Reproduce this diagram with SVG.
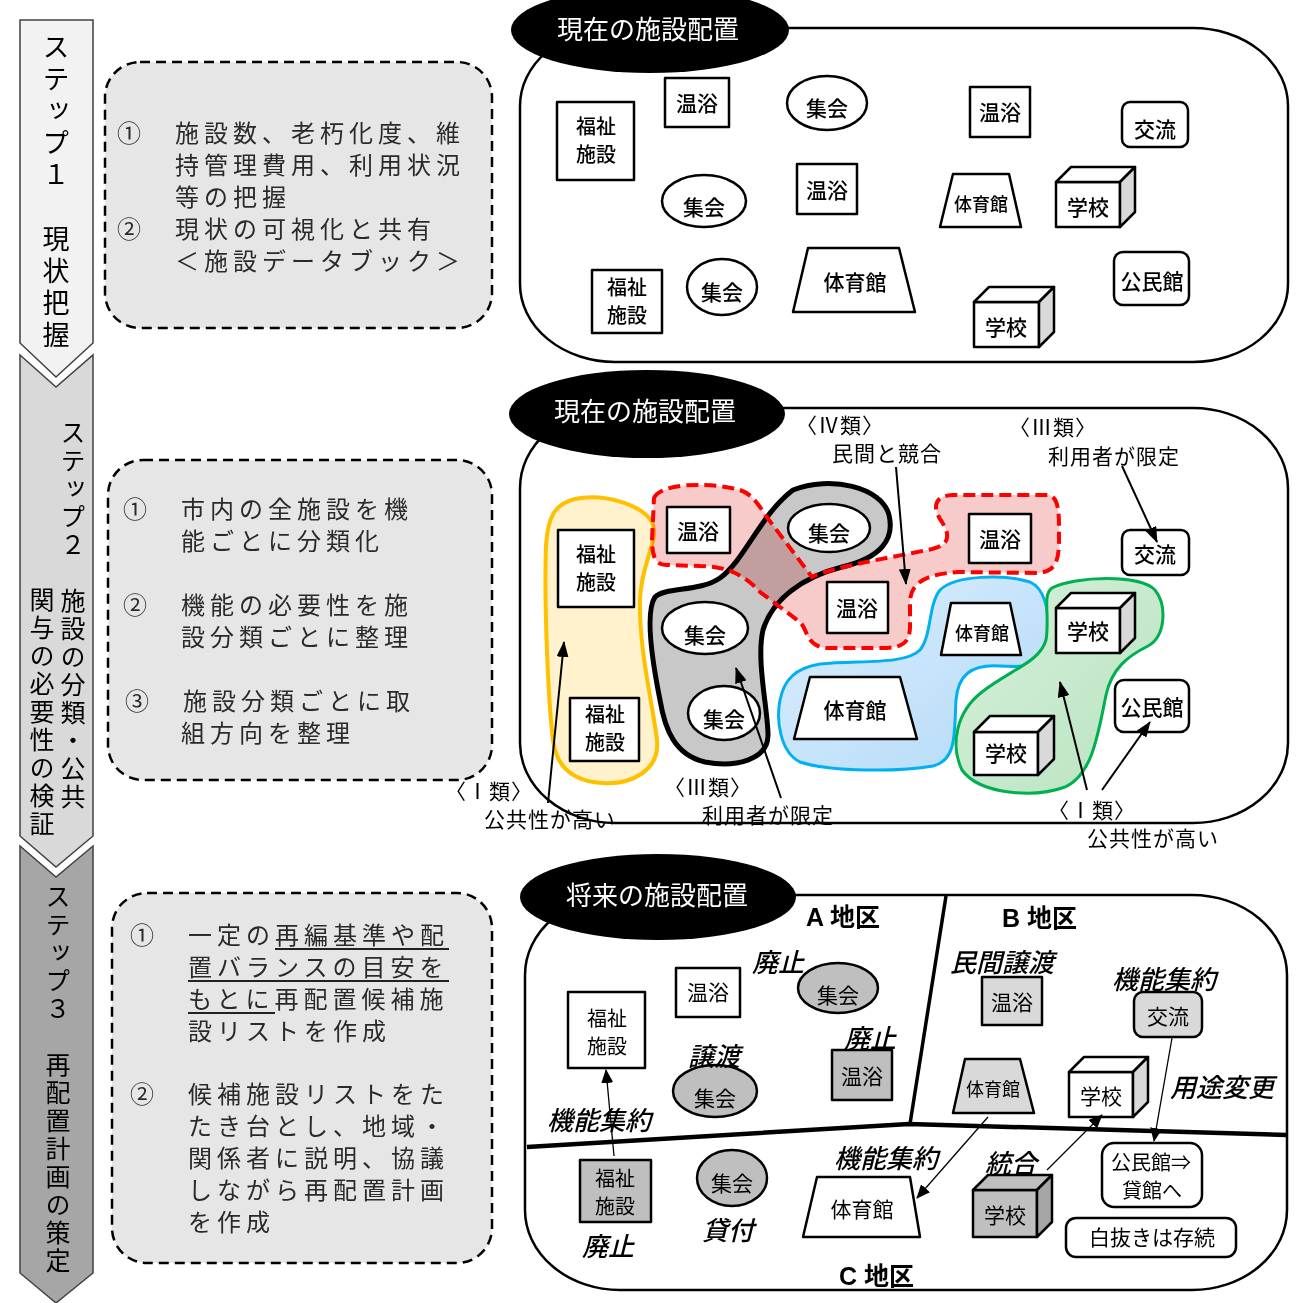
<svg xmlns="http://www.w3.org/2000/svg" width="1303" height="1303" viewBox="0 0 1303 1303">
<defs>
<style>
.step{stroke:#404040;stroke-width:1.5}
.vt{font-family:"Noto Sans CJK JP",sans-serif;writing-mode:vertical-rl;fill:#000}
.note{fill:#e6e6e6;stroke:#000;stroke-width:2.5;stroke-dasharray:10 6}
.nt{font-family:"Noto Sans CJK JP",sans-serif;font-size:24px;letter-spacing:5px;fill:#2a2a2a}
.ul{stroke:#222;stroke-width:2}
.panel{fill:#fff;stroke:#000;stroke-width:2.5}
.tt{font-family:"Noto Sans CJK JP",sans-serif;font-size:26px;fill:#fff;text-anchor:middle}
.n{fill:#fff;stroke:#000;stroke-width:2.5;stroke-linejoin:round}
.g1{fill:#bfbfbf}
.g2{fill:#d9d9d9}
.sd{fill:#d9d9d9}
.sd1{fill:#a6a6a6}
.lb{font-family:"Noto Sans CJK JP",sans-serif;font-size:21px;text-anchor:middle;fill:#000}
.two{font-size:20px}
.p12{font-weight:500}
.sm{font-size:18px}
.cap{font-family:"Noto Sans CJK JP",sans-serif;font-size:21px;fill:#000;text-anchor:middle;letter-spacing:1px}
.it{font-family:"Noto Sans CJK JP",sans-serif;font-size:26px;font-style:italic;font-weight:500;fill:#000}
.area{font-family:"Liberation Sans","Noto Sans CJK JP",sans-serif;font-size:25px;font-weight:bold;fill:#000}
.c2{stroke:#000;stroke-width:2;fill:none;marker-end:url(#ah2)}
.c3{stroke:#000;stroke-width:1.3;fill:none;marker-end:url(#ah3)}
.div{stroke:#000;fill:none;stroke-linejoin:round}
</style>
<marker id="ah2" viewBox="0 0 16 12" refX="15" refY="6" markerWidth="16" markerHeight="12" markerUnits="userSpaceOnUse" orient="auto"><path d="M0,0 L16,6 L0,12 Z" fill="#000"/></marker>
<marker id="ah3" viewBox="0 0 14 12" refX="13" refY="6" markerWidth="14" markerHeight="12" markerUnits="userSpaceOnUse" orient="auto"><path d="M0,0 L14,6 L0,12 Z" fill="#000"/></marker>
<linearGradient id="gb" x1="0" y1="0" x2="1" y2="1"><stop offset="0" stop-color="#dcEEFC"/><stop offset="1" stop-color="#b3dAf8"/></linearGradient>
<linearGradient id="gg" x1="0" y1="0" x2="1" y2="1"><stop offset="0" stop-color="#d8F0dc"/><stop offset="1" stop-color="#b7e3bf"/></linearGradient>
</defs>

<!-- Steps -->
<g id="step1">
<path class="step" fill="#f2f2f2" d="M20,20 L93,20 L93,343 L56,377 L20,343 Z"/>
<text class="vt" x="56" y="33" font-size="27" letter-spacing="5">ステップ１　現状把握</text>
</g>
<g id="step2">
<path class="step" fill="#d9d9d9" d="M20,355 L56,387 L93,355 L93,836 L56,867 L20,836 Z"/>
<text class="vt" x="73" y="420" font-size="25" letter-spacing="3">ステップ２　施設の分類・公共</text>
<text class="vt" x="42" y="587" font-size="25" letter-spacing="3">関与の必要性の検証</text>
</g>
<g id="step3">
<path class="step" fill="#a6a6a6" d="M20,846 L56,877 L93,846 L93,1273 L56,1303 L20,1273 Z"/>
<text class="vt" x="58" y="884" font-size="25" letter-spacing="3">ステップ３　再配置計画の策定</text>
</g>

<!-- Notes -->
<g id="note1">
<rect class="note" x="105" y="62" width="387" height="266" rx="35"/>
<text class="nt"><tspan x="117" y="142">①　施設数、老朽化度、維</tspan><tspan x="175" y="174">持管理費用、利用状況</tspan><tspan x="175" y="206">等の把握</tspan><tspan x="117" y="238">②　現状の可視化と共有</tspan><tspan x="175" y="270">＜施設データブック＞</tspan></text>
</g>
<g id="note2">
<rect class="note" x="108" y="460" width="384" height="320" rx="35"/>
<text class="nt"><tspan x="123" y="518">①　市内の全施設を機</tspan><tspan x="181" y="550">能ごとに分類化</tspan><tspan x="123" y="614">②　機能の必要性を施</tspan><tspan x="181" y="646">設分類ごとに整理</tspan><tspan x="125" y="710">③　施設分類ごとに取</tspan><tspan x="181" y="742">組方向を整理</tspan></text>
</g>
<g id="note3">
<rect class="note" x="112" y="893" width="380" height="370" rx="35"/>
<text class="nt"><tspan x="130" y="944">①　一定の再編基準や配</tspan><tspan x="188" y="976">置バランスの目安を</tspan><tspan x="188" y="1008">もとに再配置候補施</tspan><tspan x="188" y="1040">設リストを作成</tspan><tspan x="130" y="1103">②　候補施設リストをた</tspan><tspan x="188" y="1135">たき台とし、地域・</tspan><tspan x="188" y="1167">関係者に説明、協議</tspan><tspan x="188" y="1199">しながら再配置計画</tspan><tspan x="188" y="1231">を作成</tspan></text>
<line class="ul" x1="275" y1="949" x2="449" y2="949"/>
<line class="ul" x1="188" y1="981" x2="449" y2="981"/>
<line class="ul" x1="188" y1="1013" x2="275" y2="1013"/>
</g>

<!-- Panel 1 -->
<g id="panel1">
<rect class="panel" x="520" y="28" width="768" height="334" rx="95" ry="78"/>
<ellipse cx="650" cy="30" rx="139" ry="43" fill="#000"/>
<text class="tt" x="648" y="39">現在の施設配置</text>
</g>
<g id="p1-fukushi1"><rect class="n" x="557" y="102" width="77" height="78"/><text class="lb two p12"><tspan x="596" y="134">福祉</tspan><tspan x="596" y="162">施設</tspan></text></g>
<g id="p1-onyoku1"><rect class="n" x="665" y="78" width="64" height="49"/><text class="lb p12" x="697" y="111">温浴</text></g>
<g id="p1-shukai1"><ellipse class="n" cx="827" cy="103" rx="40" ry="27"/><text class="lb p12" x="827" y="116">集会</text></g>
<g id="p1-onyoku2"><rect class="n" x="970" y="87" width="60" height="50"/><text class="lb p12" x="1000" y="120">温浴</text></g>
<g id="p1-koryu"><rect class="n" x="1122" y="102" width="66" height="45" rx="8"/><text class="lb p12" x="1155" y="137">交流</text></g>
<g id="p1-shukai2"><ellipse class="n" cx="704" cy="201" rx="42" ry="26"/><text class="lb p12" x="704" y="215">集会</text></g>
<g id="p1-onyoku3"><rect class="n" x="797" y="164" width="60" height="50"/><text class="lb p12" x="827" y="198">温浴</text></g>
<g id="p1-taiiku1"><polygon class="n" points="953,174 1009,174 1021,227 940,227"/><text class="lb p12 sm" x="981" y="211">体育館</text></g>
<g id="p1-gakko1"><rect class="n" x="1056" y="182" width="64" height="45"/><polygon class="n" points="1056,182 1071,167 1135,167 1120,182"/><polygon class="n sd" points="1120,182 1135,167 1135,212 1120,227"/><text class="lb p12" x="1088" y="215">学校</text></g>
<g id="p1-fukushi2"><rect class="n" x="592" y="270" width="70" height="63"/><text class="lb two p12"><tspan x="627" y="295">福祉</tspan><tspan x="627" y="323">施設</tspan></text></g>
<g id="p1-shukai3"><ellipse class="n" cx="722" cy="287" rx="35" ry="28"/><text class="lb p12" x="722" y="300">集会</text></g>
<g id="p1-taiiku2"><polygon class="n" points="808,248 899,248 915,312 793,312"/><text class="lb p12" x="855" y="290">体育館</text></g>
<g id="p1-kominkan"><rect class="n" x="1114" y="252" width="75" height="53" rx="9"/><text class="lb p12" x="1152" y="289">公民館</text></g>
<g id="p1-gakko2"><rect class="n" x="974" y="302" width="65" height="45"/><polygon class="n" points="974,302 989,287 1054,287 1039,302"/><polygon class="n sd" points="1039,302 1054,287 1054,332 1039,347"/><text class="lb p12" x="1006" y="335">学校</text></g>

<!-- Panel 2 -->
<g id="panel2">
<rect class="panel" x="520" y="408" width="768" height="415" rx="95" ry="80"/>
</g>
<g id="p2-groups">
<path id="grp-yellow" d="M575,499 C605,493 642,505 652,522 C660,540 641,562 640,600 C639,650 652,700 657,740 C660,770 632,785 602,783 C570,781 556,765 553,740 C548,700 544,600 546,545 C548,516 555,504 575,499 Z" fill="#fff2cc" stroke="#ffc000" stroke-width="4"/>
<path id="grp-gray-fill" d="M793,490 C830,475 882,487 889,515 C895,540 880,558 842,567 C802,577 772,600 763,630 C756,660 768,710 768,735 C768,760 735,768 705,762 C675,755 665,730 660,700 C652,660 645,612 655,597 C665,587 700,592 720,578 C745,560 760,515 793,490 Z" fill="#c8c8c8"/>
<path id="grp-red-fill" d="M654,498 C660,484 705,481 740,490 C752,494 758,504 766,516 L812,577 C835,566 890,558 932,549 C953,544 948,532 942,522 C932,508 934,496 952,495 L1048,495 C1060,497 1059,515 1059,540 C1059,562 1055,573 1035,573 L958,572 C930,574 912,580 910,600 L910,628 C909,645 900,648 880,648 L826,648 C806,646 808,630 800,622 L760,592 C742,572 722,566 700,566 L666,565 C655,565 652,555 652,540 Z" fill="#f8cbcb" style="mix-blend-mode:multiply"/>
<path d="M793,490 C830,475 882,487 889,515 C895,540 880,558 842,567 C802,577 772,600 763,630 C756,660 768,710 768,735 C768,760 735,768 705,762 C675,755 665,730 660,700 C652,660 645,612 655,597 C665,587 700,592 720,578 C745,560 760,515 793,490 Z" fill="none" stroke="#000" stroke-width="5"/>
<path d="M654,498 C660,484 705,481 740,490 C752,494 758,504 766,516 L812,577 C835,566 890,558 932,549 C953,544 948,532 942,522 C932,508 934,496 952,495 L1048,495 C1060,497 1059,515 1059,540 C1059,562 1055,573 1035,573 L958,572 C930,574 912,580 910,600 L910,628 C909,645 900,648 880,648 L826,648 C806,646 808,630 800,622 L760,592 C742,572 722,566 700,566 L666,565 C655,565 652,555 652,540 Z" fill="none" stroke="#ff0000" stroke-width="4" stroke-dasharray="12 6"/>
<path id="grp-blue" d="M940,590 C955,575 1005,574 1030,582 C1048,590 1050,620 1049,645 C1048,665 1030,668 1000,666 C970,664 958,676 956,700 C954,730 958,760 933,766 C900,772 830,772 800,762 C780,752 776,720 780,700 C784,680 795,668 820,664 C860,660 905,665 920,650 C932,635 928,605 940,590 Z" fill="url(#gb)" stroke="#00b0f0" stroke-width="3"/>
<path id="grp-green" d="M1052,588 C1075,576 1140,574 1155,590 C1167,605 1166,636 1148,646 C1128,656 1112,668 1106,695 C1098,735 1092,775 1065,787 C1035,798 980,795 962,770 C950,745 956,712 982,692 C1010,670 1040,662 1046,640 C1050,615 1042,595 1052,588 Z" fill="url(#gg)" stroke="#00b050" stroke-width="3"/>
</g>
<g id="p2-fukushi1"><rect class="n" x="558" y="530" width="76" height="77"/><text class="lb two p12"><tspan x="596" y="562">福祉</tspan><tspan x="596" y="590">施設</tspan></text></g>
<g id="p2-fukushi2"><rect class="n" x="570" y="698" width="69" height="63"/><text class="lb two p12"><tspan x="605" y="722">福祉</tspan><tspan x="605" y="750">施設</tspan></text></g>
<g id="p2-onyoku1"><rect class="n" x="667" y="507" width="63" height="46"/><text class="lb p12" x="698" y="539">温浴</text></g>
<g id="p2-shukai1"><ellipse class="n" cx="829" cy="528" rx="41" ry="24"/><text class="lb p12" x="829" y="541">集会</text></g>
<g id="p2-onyoku2"><rect class="n" x="969" y="514" width="62" height="49"/><text class="lb p12" x="1000" y="547">温浴</text></g>
<g id="p2-koryu"><rect class="n" x="1122" y="530" width="67" height="45" rx="8"/><text class="lb p12" x="1155" y="562">交流</text></g>
<g id="p2-shukai2"><ellipse class="n" cx="705" cy="628" rx="43" ry="26"/><text class="lb p12" x="705" y="643">集会</text></g>
<g id="p2-onyoku3"><rect class="n" x="827" y="582" width="61" height="51"/><text class="lb p12" x="857" y="616">温浴</text></g>
<g id="p2-taiiku1"><polygon class="n" points="951,603 1010,603 1021,655 941,655"/><text class="lb p12 sm" x="982" y="640">体育館</text></g>
<g id="p2-gakko1"><rect class="n" x="1056" y="608" width="64" height="45"/><polygon class="n" points="1056,608 1071,593 1135,593 1120,608"/><polygon class="n sd" points="1120,608 1135,593 1135,638 1120,653"/><text class="lb p12" x="1088" y="639">学校</text></g>
<g id="p2-shukai3"><ellipse class="n" cx="724" cy="713" rx="36" ry="27"/><text class="lb p12" x="724" y="727">集会</text></g>
<g id="p2-taiiku2"><polygon class="n" points="810,677 900,677 917,739 794,739"/><text class="lb p12" x="855" y="718">体育館</text></g>
<g id="p2-gakko2"><rect class="n" x="974" y="732" width="64" height="43"/><polygon class="n" points="974,732 990,716 1054,716 1038,732"/><polygon class="n sd" points="1038,732 1054,716 1054,759 1038,775"/><text class="lb p12" x="1006" y="761">学校</text></g>
<g id="p2-kominkan"><rect class="n" x="1115" y="680" width="74" height="52" rx="9"/><text class="lb p12" x="1152" y="715">公民館</text></g>
<g id="panel2-title">
<ellipse cx="647" cy="414" rx="138" ry="44" fill="#000"/>
<text class="tt" x="645" y="421">現在の施設配置</text>
</g>
<g id="p2-labels">
<text class="cap"><tspan x="840" y="433">〈Ⅳ類〉</tspan><tspan x="887" y="461">民間と競合</tspan></text>
<text class="cap"><tspan x="1053" y="435">〈Ⅲ類〉</tspan><tspan x="1114" y="464">利用者が限定</tspan></text>
<text class="cap"><tspan x="489" y="799">〈Ⅰ類〉</tspan><tspan x="550" y="827">公共性が高い</tspan></text>
<text class="cap"><tspan x="708" y="795">〈Ⅲ類〉</tspan><tspan x="768" y="823">利用者が限定</tspan></text>
<text class="cap"><tspan x="1092" y="818">〈Ⅰ類〉</tspan><tspan x="1153" y="846">公共性が高い</tspan></text>
</g>

<!-- Panel 3 -->
<g id="panel3">
<rect class="panel" x="525" y="895" width="762" height="395" rx="95" ry="80"/>
<path class="div" stroke-width="3.5" d="M946,896 L910,1124"/>
<path class="div" stroke-width="4.5" d="M527,1147 L909,1124 L1287,1135"/>
<ellipse cx="658" cy="897" rx="138" ry="43" fill="#000"/>
<text class="tt" x="657" y="905">将来の施設配置</text>
<text class="area" x="806" y="926">A 地区</text>
<text class="area" x="1002" y="927">B 地区</text>
<text class="area" x="839" y="1285">C 地区</text>
</g>
<g id="p3-fukushiA"><rect class="n" x="568" y="992" width="77" height="76"/><text class="lb two"><tspan x="607" y="1026">福祉</tspan><tspan x="607" y="1054">施設</tspan></text></g>
<g id="p3-onyokuA1"><rect class="n" x="676" y="968" width="64" height="49"/><text class="lb" x="708" y="1000">温浴</text></g>
<g id="p3-shukaiA1"><ellipse class="n g1" cx="838" cy="988" rx="40" ry="25"/><text class="lb" x="838" y="1003">集会</text></g>
<g id="p3-onyokuA2"><rect class="n g1" x="832" y="1050" width="60" height="50"/><text class="lb" x="862" y="1084">温浴</text></g>
<g id="p3-shukaiA2"><ellipse class="n g1" cx="715" cy="1091" rx="42" ry="26"/><text class="lb" x="715" y="1106">集会</text></g>
<g id="p3-onyokuB"><rect class="n g2" x="982" y="977" width="60" height="48"/><text class="lb" x="1012" y="1010">温浴</text></g>
<g id="p3-koryuB"><rect class="n g2" x="1134" y="992" width="68" height="45" rx="9"/><text class="lb" x="1168" y="1024">交流</text></g>
<g id="p3-taiikuB"><polygon class="n g2" points="965,1059 1020,1059 1034,1113 953,1113"/><text class="lb sm" x="993" y="1096">体育館</text></g>
<g id="p3-gakkoB"><rect class="n" x="1069" y="1072" width="64" height="45"/><polygon class="n" points="1069,1072 1084,1057 1148,1057 1133,1072"/><polygon class="n sd" points="1133,1072 1148,1057 1148,1102 1133,1117"/><text class="lb" x="1101" y="1104">学校</text></g>
<g id="p3-kominkan"><rect class="n" x="1102" y="1143" width="100" height="64" rx="12"/><text class="lb two" fill="#7f7f7f"><tspan x="1151" y="1170">公民館⇒</tspan><tspan x="1152" y="1198">貸館へ</tspan></text></g>
<g id="p3-legend"><rect class="n" x="1066" y="1218" width="170" height="39" rx="10"/><text class="lb" x="1152" y="1245" font-size="23" fill="#595959">白抜きは存続</text></g>
<g id="p3-fukushiC"><rect class="n g1" x="580" y="1160" width="71" height="62"/><text class="lb two"><tspan x="615" y="1186">福祉</tspan><tspan x="615" y="1214">施設</tspan></text></g>
<g id="p3-shukaiC"><ellipse class="n g1" cx="732" cy="1178" rx="35" ry="28"/><text class="lb" x="732" y="1191">集会</text></g>
<g id="p3-taiikuC"><polygon class="n" points="817,1177 910,1177 920,1237 803,1237"/><text class="lb" x="862" y="1217">体育館</text></g>
<g id="p3-gakkoC"><rect class="n g1" x="973" y="1190" width="64" height="47"/><polygon class="n g1" points="973,1190 988,1175 1052,1175 1037,1190"/><polygon class="n sd1" points="1037,1190 1052,1175 1052,1222 1037,1237"/><text class="lb" x="1005" y="1223">学校</text></g>
<g id="p3-labels">
<text class="it" x="752" y="972">廃止</text>
<text class="it" x="844" y="1048">廃止</text>
<text class="it" x="688" y="1066">譲渡</text>
<text class="it" x="547" y="1130">機能集約</text>
<text class="it" x="950" y="972">民間譲渡</text>
<text class="it" x="1112" y="989">機能集約</text>
<text class="it" x="1170" y="1097">用途変更</text>
<text class="it" x="834" y="1168">機能集約</text>
<text class="it" x="985" y="1173">統合</text>
<text class="it" x="702" y="1240">貸付</text>
<text class="it" x="582" y="1256">廃止</text>
</g>

<!-- Connectors -->
<g id="connectors">
<line class="c2" x1="896" y1="467" x2="906" y2="584"/>
<line class="c2" x1="1122" y1="466" x2="1157" y2="542"/>
<line class="c2" x1="548" y1="803" x2="564" y2="642"/>
<line class="c2" x1="781" y1="798" x2="736" y2="668"/>
<line class="c2" x1="1087" y1="790" x2="1060" y2="682"/>
<line class="c2" x1="1102" y1="790" x2="1150" y2="722"/>
<line class="c3" x1="614" y1="1156" x2="606" y2="1070"/>
<line class="c3" x1="988" y1="1117" x2="917" y2="1198"/>
<line class="c3" x1="1047" y1="1170" x2="1102" y2="1115"/>
<line class="c3" x1="1172" y1="1038" x2="1154" y2="1141"/>
</g>
</svg>
